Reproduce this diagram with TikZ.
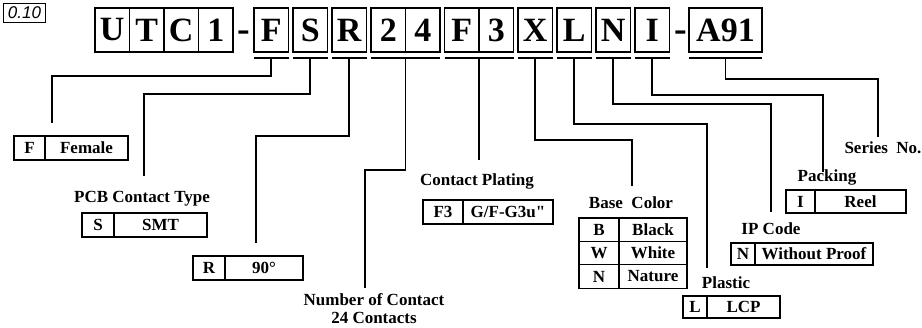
\documentclass[tikz,border=0pt]{standalone}
\usepackage{fontspec}
\setmainfont{Liberation Serif}[Ligatures=TeXOff]
\newfontfamily\tagfont{Liberation Sans}
\usetikzlibrary{positioning}
\tikzset{
    digit/.style={draw, line width=1.3pt, minimum width=34.5pt, minimum height=44pt,
    inner sep=0pt, outer sep=0pt, font=\fontsize{34}{34}\selectfont\bfseries},
    hyphenmark/.style={font=\fontsize{38}{38}\selectfont\bfseries, anchor=base, inner sep=0pt},
    bar/.style={line width=2pt},
    lead/.style={line width=1.6pt},
    code/.style={draw, line width=1.3pt, minimum height=24pt, inner sep=0pt, outer sep=0pt,
    font=\fontsize{17}{17}\selectfont\bfseries},
    heading/.style={font=\fontsize{17}{18}\selectfont\bfseries, align=center, inner sep=0pt},
}

\begin{document}
\begin{tikzpicture}[x=1pt, y=-1pt, node distance=0pt]
            \useasboundingbox (0,0) rectangle (922,327);
            % --- revision tag ---
            \node[draw, line width=1pt, minimum width=42pt, minimum height=19pt, inner sep=0pt,
                anchor=north west, font=\tagfont\itshape\fontsize{17}{17}\selectfont] (rev) at (3,3) {0.10};
            % --- part number ---
            \node[digit, anchor=north west] (u) at (95,8) {U};
            \node[digit, right=of u] (t) {T};
            \node[digit, right=of t] (c) {C};
            \node[digit, right=of c] (one) {1};
            \node[digit, anchor=north west] (gF) at (254,8) {F};
            \node[digit, right=4.5pt of gF] (gS) {S};
            \node[digit, right=4.5pt of gS] (gR) {R};
            \node[digit, right=4.5pt of gR] (g2) {2};
            \node[digit, right=of g2] (g4) {4};
            \node[digit, right=4.5pt of g4] (gPa) {F};
            \node[digit, right=of gPa] (gPb) {3};
            \node[digit, right=4.5pt of gPb] (gX) {X};
            \node[digit, right=4.5pt of gX] (gL) {L};
            \node[digit, right=4.5pt of gL] (gN) {N};
            \node[digit, right=4.5pt of gN] (gI) {I};
            \node[digit, anchor=north west, minimum width=73pt] (gA) at (689,8) {A91};
            \node[hyphenmark] (d1) at (244,41) {-};
            \node[hyphenmark] (d2) at (681,41) {-};
            % --- underlines ---
            \draw[bar] ([yshift=-6pt]gF.south west) -- ([yshift=-6pt]gF.south east);
            \draw[bar] ([yshift=-6pt]gS.south west) -- ([yshift=-6pt]gS.south east);
            \draw[bar] ([yshift=-6pt]gR.south west) -- ([yshift=-6pt]gR.south east);
            \draw[bar] ([yshift=-6pt]g2.south west) -- ([yshift=-6pt]g4.south east);
            \draw[bar] ([yshift=-6pt]gPa.south west) -- ([yshift=-6pt]gPb.south east);
            \draw[bar] ([yshift=-6pt]gX.south west) -- ([yshift=-6pt]gX.south east);
            \draw[bar] ([yshift=-6pt]gL.south west) -- ([yshift=-6pt]gL.south east);
            \draw[bar] ([yshift=-6pt]gN.south west) -- ([yshift=-6pt]gN.south east);
            \draw[bar] ([yshift=-6pt]gI.south west) -- ([yshift=-6pt]gI.south east);
            \draw[bar] ([yshift=-6pt]gA.south west) -- ([yshift=-6pt]gA.south east);
            % --- lead start and end points ---
            \coordinate (aF) at ([yshift=-6pt]gF.south);
            \coordinate (aS) at ([yshift=-6pt]gS.south);
            \coordinate (aR) at ([yshift=-6pt]gR.south);
            \coordinate (aNum) at ([yshift=-6pt]g2.south east);
            \coordinate (aPl) at ([yshift=-6pt]gPa.south east);
            \coordinate (aCol) at ([yshift=-6pt]gX.south);
            \coordinate (aPla) at ([yshift=-6pt]gL.south);
            \coordinate (aIP) at ([yshift=-6pt]gN.south);
            \coordinate (aPk) at ([yshift=-6pt]gI.south);
            \coordinate (aSer) at ([yshift=-6pt]gA.south);
            \coordinate (bF) at (52,123);
            \coordinate (bS) at (144,176);
            \coordinate (bR) at (256,243);
            \coordinate (bNum) at (365,288);
            \coordinate (bPl) at (0,160);
            \coordinate (bCol) at (632,186);
            \coordinate (bPla) at (707,268);
            \coordinate (bIP) at (771,212);
            \coordinate (bPk) at (823,172);
            \coordinate (bSer) at (878,137);
            % --- leads ---
            \draw[lead] (aF) -- ++(0,18) -| (bF);
            \draw[lead] (aS) -- ++(0,36) -| (bS);
            \draw[lead] (aR) -- ++(0,78) -| (bR);
            \draw[lead] (aNum) -- ++(0,112) -| (bNum);
            \draw[lead] (aPl) -- (aPl |- bPl);
            \draw[lead] (aCol) -- ++(0,82) -| (bCol);
            \draw[lead] (aPla) -- ++(0,66) -| (bPla);
            \draw[lead] (aIP) -- ++(0,46) -| (bIP);
            \draw[lead] (aPk) -- ++(0,37) -| (bPk);
            \draw[lead] (aSer) -- ++(0,21) -| (bSer);
            % --- gender ---
            \node[code, minimum width=31pt, anchor=north west] (kF) at (14,136) {F};
            \node[code, minimum width=83pt, right=of kF] (vF) {Female};
            % --- contact type ---
            \node[heading] (tS) at (142,199) {PCB Contact Type};
            \node[code, minimum width=32pt, anchor=north west] (kS) at (82,213) {S};
            \node[code, minimum width=93pt, right=of kS] (vS) {SMT};
            % --- angle ---
            \node[code, minimum width=32pt, anchor=north west] (kR) at (193,256) {R};
            \node[code, minimum width=78pt, right=of kR] (vR) {90°};
            % --- contacts ---
            \node[heading] (tNum) at (374,309) {Number of Contact\\24 Contacts};
            % --- plating ---
            \node[heading] (tPl) at (477,181) {Contact Plating};
            \node[code, minimum width=40pt, anchor=north west] (kPl) at (423,200) {F3};
            \node[code, minimum width=90pt, right=of kPl] (vPl) {G/F-G3u"};
            % --- base color ---
            \node[heading] (tCol) at (631,203) {Base~ Color};
            \node[code, minimum width=40pt, minimum height=23.4pt, anchor=north west] (kB) at (579,218) {B};
            \node[code, minimum width=68pt, minimum height=23.4pt, right=of kB] (vB) {Black};
            \node[code, minimum width=40pt, minimum height=23.4pt, below=of kB] (kW) {W};
            \node[code, minimum width=68pt, minimum height=23.4pt, right=of kW] (vW) {White};
            \node[code, minimum width=40pt, minimum height=23.4pt, below=of kW] (kN) {N};
            \node[code, minimum width=68pt, minimum height=23.4pt, right=of kN] (vN) {Nature};
            % --- plastic ---
            \node[heading] (tPla) at (726,283) {Plastic};
            \node[code, minimum width=24pt, minimum height=22pt, anchor=north west] (kL) at (683,296) {L};
            \node[code, minimum width=73pt, minimum height=22pt, right=of kL] (vL) {LCP};
            % --- ip code ---
            \node[heading] (tIP) at (771,229) {IP Code};
            \node[code, minimum width=24pt, minimum height=22pt, anchor=north west] (kIP) at (731,243) {N};
            \node[code, minimum width=118pt, minimum height=22pt, right=of kIP] (vIP) {Without Proof};
            % --- packing ---
            \node[heading] (tPk) at (827,177) {Packing};
            \node[code, minimum width=29pt, minimum height=23pt, anchor=north west] (kPk) at (786,190) {I};
            \node[code, minimum width=91pt, minimum height=23pt, right=of kPk] (vPk) {Reel};
            % --- series ---
            \node[heading] (tSer) at (883,148) {Series~ No.};
        \end{tikzpicture}
\end{document}
